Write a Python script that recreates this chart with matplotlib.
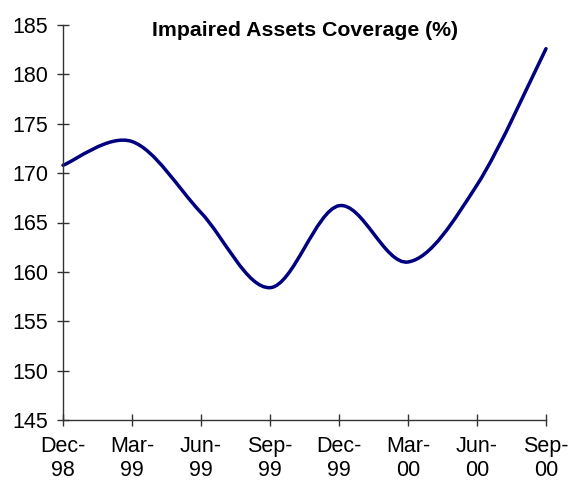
import matplotlib
matplotlib.use("Agg")
import matplotlib.pyplot as plt
from matplotlib.path import Path
from matplotlib.patches import PathPatch
import numpy as np

categories = ["Dec-\n98", "Mar-\n99", "Jun-\n99", "Sep-\n99", "Dec-\n99", "Mar-\n00", "Jun-\n00", "Sep-\n00"]
values = [170.8, 173.2, 166.0, 158.4, 166.7, 161.0, 168.8, 182.6]
yticks = [145, 150, 155, 160, 165, 170, 175, 180, 185]
title = "Impaired Assets Coverage (%)"

plt.rcParams['font.family'] = ['Liberation Sans', 'DejaVu Sans']

fig = plt.figure(figsize=(5.7, 4.84), dpi=100)
ax = fig.add_axes([63/570, 1-420/484, (546-63)/570, (420-25)/484])

x = np.arange(len(values), dtype=float)
y = np.array(values, dtype=float)
# Smoothed line (Catmull-Rom style Bezier, as in spreadsheet "smoothed line")
verts = [(x[0], y[0])]
codes = [Path.MOVETO]
n = len(x)
for i in range(n - 1):
    p0 = (x[max(i-1, 0)], y[max(i-1, 0)])
    p1 = (x[i], y[i])
    p2 = (x[i+1], y[i+1])
    p3 = (x[min(i+2, n-1)], y[min(i+2, n-1)])
    c1 = (p1[0] + (p2[0]-p0[0])/6, p1[1] + (p2[1]-p0[1])/6)
    c2 = (p2[0] - (p3[0]-p1[0])/6, p2[1] - (p3[1]-p1[1])/6)
    verts += [c1, c2, p2]
    codes += [Path.CURVE4]*3
patch = PathPatch(Path(verts, codes), facecolor='none', edgecolor='#000080', lw=2.5,
                  capstyle='round', joinstyle='round', clip_on=False)
ax.add_patch(patch)

ax.set_xlim(0, len(values)-1)
ax.set_ylim(145, 185)
ax.set_xticks(x)
ax.set_xticklabels(categories, linespacing=1.22)
ax.set_yticks(yticks)
for s in ['top', 'right']:
    ax.spines[s].set_visible(False)
for s in ['left', 'bottom']:
    ax.spines[s].set_color('#333333')
    ax.spines[s].set_linewidth(1.0)
ax.tick_params(axis='both', direction='inout', length=9, width=1.0, color='#333333',
               labelsize=15.5, labelcolor='black')
ax.tick_params(axis='y', pad=6)
ax.tick_params(axis='x', pad=7)
ax.set_title(title, fontsize=15.3, fontweight='bold', pad=0, y=0.972)

fig.savefig("out.png", dpi=100)
